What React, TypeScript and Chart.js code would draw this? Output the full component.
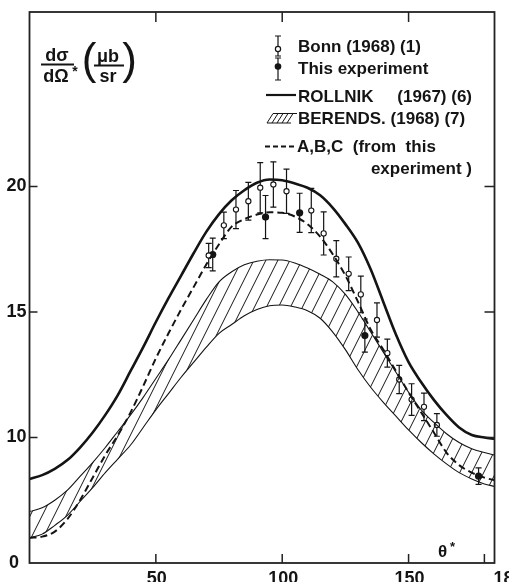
import React, { useEffect, useRef } from 'react';
import { Chart, registerables } from 'chart.js';

Chart.register(...registerables);

// ---- data ----
const curveAngles = [0, 5, 10, 15, 20, 25, 30, 35, 40, 45, 50, 55, 60, 65, 70, 75, 80, 85, 90, 95, 100, 105, 110, 115, 120, 125, 130, 135, 140, 145, 150, 155, 160, 165, 170, 175, 180, 184];
const rollnik = [8.35, 8.5, 8.75, 9.1, 9.6, 10.2, 10.9, 11.7, 12.65, 13.6, 14.6, 15.55, 16.45, 17.35, 18.2, 18.9, 19.45, 19.85, 20.15, 20.28, 20.25, 20.12, 19.95, 19.65, 19.15, 18.5, 17.75, 16.7, 15.4, 14.1, 13.0, 12.2, 11.5, 10.9, 10.4, 10.1, 10.0, 9.95];
const berendsUpper = [7.05, 7.2, 7.5, 7.9, 8.45, 9.0, 9.6, 10.25, 10.9, 11.6, 12.35, 13.1, 13.9, 14.7, 15.5, 16.2, 16.6, 16.88, 17.02, 17.08, 17.07, 16.95, 16.75, 16.5, 16.2, 15.7, 15.0, 14.2, 13.4, 12.6, 11.8, 11.1, 10.6, 10.15, 9.8, 9.55, 9.4, 9.3];
const berendsLower = [6.0, 6.15, 6.5, 6.9, 7.45, 8.0, 8.6, 9.15, 9.7, 10.4, 11.1, 11.75, 12.4, 13.0, 13.6, 14.15, 14.5, 14.85, 15.1, 15.25, 15.28, 15.2, 15.05, 14.75, 14.2, 13.5, 12.7, 12.0, 11.4, 10.85, 10.3, 9.8, 9.35, 8.95, 8.6, 8.35, 8.15, 8.05];
const abcFit = [6.0, 6.05, 6.25, 6.75, 7.5, 8.4, 9.3, 10.1, 11.0, 12.05, 13.15, 14.15, 15.1, 16.0, 16.9, 17.7, 18.4, 18.7, 18.88, 18.97, 18.95, 18.8, 18.5, 18.0, 17.3, 16.45, 15.4, 14.3, 13.5, 12.65, 11.8, 11.0, 10.2, 9.4, 8.9, 8.6, 8.4, 8.3];

const bonnAngles = [70.9, 76.9, 81.7, 86.6, 91.3, 96.5, 101.7, 111.5, 116.4, 121.4, 126.3, 131.1, 137.5, 141.6, 146.3, 151.2, 156.1, 161.2];
const bonnValues = [17.25, 18.45, 19.08, 19.41, 19.95, 20.08, 19.81, 19.04, 18.13, 17.12, 16.52, 15.7, 14.68, 13.36, 12.31, 11.51, 11.22, 10.5];
const bonnErrors = [0.48, 0.53, 0.76, 0.75, 1.0, 0.9, 0.88, 0.88, 0.86, 0.72, 0.67, 0.73, 0.68, 0.56, 0.56, 0.63, 0.55, 0.45];

const expAngles = [72.5, 93.4, 106.9, 132.7, 177.7];
const expValues = [17.29, 18.78, 18.95, 14.06, 8.46];
const expErrors = [0.65, 0.86, 0.78, 0.66, 0.33];

const xTickValues = [50, 100, 150, 180];
const xTickLabels = ['50', '100', '150', '180'];
const yTickValues = [5, 10, 15, 20];
const yTickLabels = ['0', '10', '15', '20'];

const FONT = '"Liberation Sans", Arial, sans-serif';
const INK = '#141414';

function makeHatch(): CanvasPattern | string {
  const c = document.createElement('canvas');
  c.width = 12;
  c.height = 24;
  const g = c.getContext('2d');
  if (!g) return 'rgba(0,0,0,0.2)';
  g.strokeStyle = INK;
  g.lineWidth = 1;
  g.beginPath();
  for (const o of [-12, 0, 12]) {
    g.moveTo(o, 24);
    g.lineTo(o + 12, 0);
  }
  g.stroke();
  return g.createPattern(c, 'repeat') || 'rgba(0,0,0,0.2)';
}

function drawErrorBars(chart: any, xs: number[], ys: number[], es: number[], cap: number) {
  const ctx = chart.ctx as CanvasRenderingContext2D;
  const sx = chart.scales.x;
  const sy = chart.scales.y;
  ctx.save();
  ctx.strokeStyle = INK;
  ctx.lineWidth = 1.2;
  for (let i = 0; i < xs.length; i++) {
    const px = sx.getPixelForValue(xs[i]);
    const top = sy.getPixelForValue(ys[i] + es[i]);
    const bot = sy.getPixelForValue(ys[i] - es[i]);
    ctx.beginPath();
    ctx.moveTo(px, top);
    ctx.lineTo(px, bot);
    ctx.moveTo(px - cap, top);
    ctx.lineTo(px + cap, top);
    ctx.moveTo(px - cap, bot);
    ctx.lineTo(px + cap, bot);
    ctx.stroke();
  }
  ctx.restore();
}

const decorPlugin = {
  id: 'decor',
  beforeDatasetDraw(chart: any, args: any) {
    if (args.index === 4) drawErrorBars(chart, bonnAngles, bonnValues, bonnErrors, 3);
    if (args.index === 5) drawErrorBars(chart, expAngles, expValues, expErrors, 3);
  },
  afterDraw(chart: any) {
    const ctx = chart.ctx as CanvasRenderingContext2D;
    const a = chart.chartArea;
    const sx = chart.scales.x;
    const sy = chart.scales.y;
    ctx.save();
    // frame
    ctx.strokeStyle = '#222';
    ctx.lineWidth = 1.8;
    ctx.strokeRect(a.left, a.top, a.right - a.left, a.bottom - a.top);
    // ticks (inward)
    ctx.lineWidth = 1.5;
    ctx.beginPath();
    xTickValues.forEach((v) => {
      const px = sx.getPixelForValue(v);
      ctx.moveTo(px, a.bottom);
      ctx.lineTo(px, a.bottom - 9);
      if (v < 180) {
        ctx.moveTo(px, a.top);
        ctx.lineTo(px, a.top + 10);
      }
    });
    yTickValues.forEach((v) => {
      if (v === 5) return;
      const py = sy.getPixelForValue(v);
      ctx.moveTo(a.left, py);
      ctx.lineTo(a.left + 8, py);
      ctx.moveTo(a.right, py);
      ctx.lineTo(a.right - 10, py);
    });
    ctx.stroke();

    // tick labels
    ctx.fillStyle = INK;
    ctx.font = `bold 18px ${FONT}`;
    ctx.textBaseline = 'alphabetic';
    xTickValues.forEach((v, i) => {
      const px = sx.getPixelForValue(v);
      if (v === 180) {
        ctx.textAlign = 'left';
        ctx.fillText(xTickLabels[i], px + 9, 584);
      } else {
        ctx.textAlign = 'center';
        ctx.fillText(xTickLabels[i], px + 1, 584);
      }
    });
    ctx.textBaseline = 'middle';
    yTickValues.forEach((v, i) => {
      const py = sy.getPixelForValue(v);
      if (v === 5) {
        ctx.textAlign = 'center';
        ctx.fillText(yTickLabels[i], 14, py);
      } else {
        ctx.textAlign = 'right';
        ctx.fillText(yTickLabels[i], 26.5, py);
      }
    });

    // x axis name
    ctx.textBaseline = 'alphabetic';
    ctx.textAlign = 'left';
    ctx.font = `bold 17px ${FONT}`;
    ctx.fillText('θ', 438, 557);
    ctx.font = `bold 13px ${FONT}`;
    ctx.fillText('*', 450, 551);

    // y axis name: dσ/dΩ* (μb/sr)
    ctx.font = `bold 18px ${FONT}`;
    ctx.textAlign = 'center';
    ctx.fillText('dσ', 57, 61);
    ctx.fillText('dΩ', 56, 82);
    ctx.font = `bold 14px ${FONT}`;
    ctx.fillText('*', 75, 76);
    ctx.font = `bold 18px ${FONT}`;
    ctx.fillText('μb', 108, 62);
    ctx.fillText('sr', 108, 82);
    ctx.lineWidth = 1.8;
    ctx.strokeStyle = INK;
    ctx.beginPath();
    ctx.moveTo(41, 64.5);
    ctx.lineTo(74, 64.5);
    ctx.moveTo(94, 65.5);
    ctx.lineTo(124, 65.5);
    ctx.stroke();
    ctx.font = `44px ${FONT}`;
    ctx.textBaseline = 'middle';
    ctx.fillText('(', 89, 62);
    ctx.fillText(')', 129.5, 62);

    // legend
    ctx.textBaseline = 'alphabetic';
    ctx.textAlign = 'left';
    ctx.font = `bold 17px ${FONT}`;
    ctx.fillText('Bonn (1968) (1)', 298, 52, 126);
    ctx.fillText('This experiment', 298, 73.5, 141);
    ctx.fillText('ROLLNIK', 298, 101.5);
    ctx.textAlign = 'right';
    ctx.fillText('(1967) (6)', 472, 101.5);
    ctx.textAlign = 'left';
    ctx.fillText('BERENDS. (1968) (7)', 298, 123.5, 174);
    ctx.fillText('A,B,C  (from  this', 297, 152, 175);
    ctx.textAlign = 'right';
    ctx.fillText('experiment )', 472, 173.5);

    // legend symbols
    ctx.strokeStyle = INK;
    ctx.fillStyle = INK;
    ctx.lineWidth = 1.2;
    // Bonn: open circle with error bar
    ctx.beginPath();
    ctx.moveTo(278, 36); ctx.lineTo(278, 56);
    ctx.moveTo(275, 36); ctx.lineTo(281, 36);
    ctx.moveTo(275, 56); ctx.lineTo(281, 56);
    ctx.stroke();
    ctx.beginPath();
    ctx.arc(278, 49, 2.6, 0, Math.PI * 2);
    ctx.fillStyle = '#fff';
    ctx.fill();
    ctx.stroke();
    // This experiment: filled
    ctx.fillStyle = INK;
    ctx.beginPath();
    ctx.moveTo(278, 58); ctx.lineTo(278, 80);
    ctx.moveTo(275, 58); ctx.lineTo(281, 58);
    ctx.moveTo(275, 80); ctx.lineTo(281, 80);
    ctx.stroke();
    ctx.beginPath();
    ctx.arc(278, 66.5, 3.3, 0, Math.PI * 2);
    ctx.fill();
    // Rollnik line
    ctx.lineWidth = 2.2;
    ctx.beginPath();
    ctx.moveTo(266, 95); ctx.lineTo(296, 95);
    ctx.stroke();
    // Berends hatch swatch
    ctx.lineWidth = 1;
    ctx.beginPath();
    ctx.moveTo(273, 113.5); ctx.lineTo(297, 113.5);
    ctx.moveTo(267, 123); ctx.lineTo(291, 123);
    for (let x = 267; x <= 291; x += 5) {
      ctx.moveTo(x, 123);
      ctx.lineTo(x + 6, 113.5);
    }
    ctx.stroke();
    // ABC dashed
    ctx.lineWidth = 2;
    ctx.setLineDash([5, 3]);
    ctx.beginPath();
    ctx.moveTo(265, 146.5); ctx.lineTo(295, 146.5);
    ctx.stroke();
    ctx.setLineDash([]);
    ctx.restore();
  },
};

export default function App() {
  const ref = useRef<HTMLCanvasElement | null>(null);
  useEffect(() => {
    if (!ref.current) return;
    const hatch = makeHatch();
    const pts = (ys: number[]) => curveAngles.map((a, i) => ({ x: a, y: ys[i] }));
    const chart = new Chart(ref.current, {
      type: 'line',
      data: {
        datasets: [
          {
            label: 'ROLLNIK (1967) (6)',
            data: pts(rollnik),
            borderColor: INK,
            borderWidth: 2.6,
            pointRadius: 0,
            cubicInterpolationMode: 'monotone',
            fill: false,
          },
          {
            label: 'BERENDS upper',
            data: pts(berendsUpper),
            borderColor: INK,
            borderWidth: 1.1,
            pointRadius: 0,
            cubicInterpolationMode: 'monotone',
            fill: '+1',
            backgroundColor: hatch as any,
          },
          {
            label: 'BERENDS lower',
            data: pts(berendsLower),
            borderColor: INK,
            borderWidth: 1.1,
            pointRadius: 0,
            cubicInterpolationMode: 'monotone',
            fill: false,
          },
          {
            label: 'A,B,C',
            data: pts(abcFit),
            borderColor: INK,
            borderWidth: 2,
            borderDash: [7, 4],
            pointRadius: 0,
            cubicInterpolationMode: 'monotone',
            fill: false,
          },
          {
            label: 'Bonn (1968) (1)',
            data: bonnAngles.map((a, i) => ({ x: a, y: bonnValues[i] })),
            showLine: false,
            pointRadius: 2.6,
            pointBorderWidth: 1.1,
            pointBackgroundColor: '#fff',
            pointBorderColor: INK,
          },
          {
            label: 'This experiment',
            data: expAngles.map((a, i) => ({ x: a, y: expValues[i] })),
            showLine: false,
            pointRadius: 3.6,
            pointBorderWidth: 0,
            pointBackgroundColor: INK,
            pointBorderColor: INK,
          },
        ],
      },
      options: {
        animation: false,
        responsive: false,
        devicePixelRatio: 1,
        layout: { padding: { left: 29.5, right: 14.5, top: 12, bottom: 19 } },
        scales: {
          x: { type: 'linear', min: 0, max: 184, display: false },
          y: { type: 'linear', min: 5, max: 26.95, display: false },
        },
        plugins: {
          legend: { display: false },
          tooltip: { enabled: false },
        },
      },
      plugins: [decorPlugin],
    });
    return () => chart.destroy();
  }, []);
  return (
    <canvas
      ref={ref}
      width={509}
      height={582}
      style={{ position: 'absolute', left: 0, top: 0, display: 'block', background: '#fff' }}
    />
  );
}
